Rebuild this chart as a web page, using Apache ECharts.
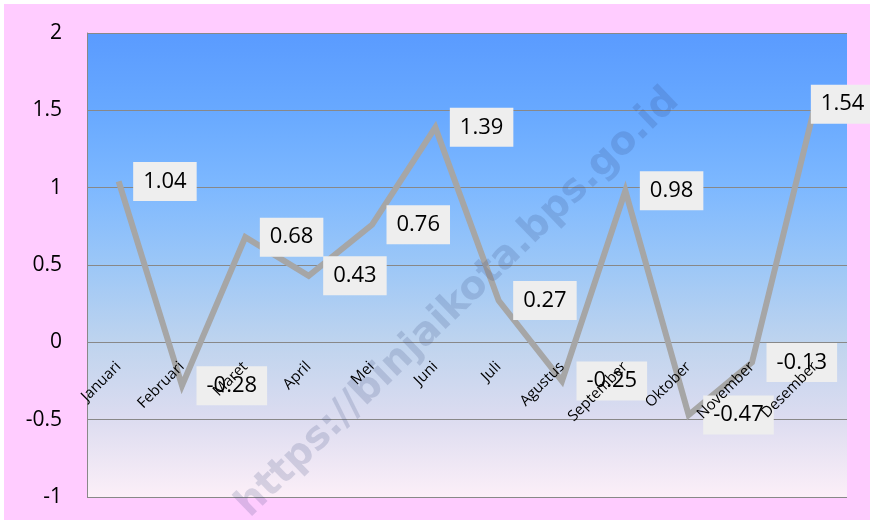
<!DOCTYPE html>
<html>
<head>
<meta charset="utf-8">
<script src="https://cdn.jsdelivr.net/npm/echarts@6/dist/echarts.min.js"></script>
<style>
  html, body { margin: 0; padding: 0; background: #ffffff; }
  #frame { position: absolute; left: 4px; top: 4px; width: 866px; height: 516px; background: #FFCCFF; }
  #chart { position: absolute; left: 0; top: 0; width: 870px; height: 524px; }
</style>
</head>
<body>
<div id="frame"></div>
<div id="chart"></div>
<script>
// Monthly values
const months = ['Januari', 'Februari', 'Maret', 'April', 'Mei', 'Juni', 'Juli', 'Agustus', 'September', 'Oktober', 'November', 'Desember'];
const values = [1.04, -0.28, 0.68, 0.43, 0.76, 1.39, 0.27, -0.25, 0.98, -0.47, -0.13, 1.54];
const yTicks = { min: -1, max: 2, step: 0.5 };
const watermark = 'https://binjaikota.bps.go.id';

const grid = { left: 87, top: 33, right: 23, bottom: 27 };
const plotHeight = 524 - grid.top - grid.bottom;
// month names sit on the zero line rather than the bottom edge
const zeroOffset = -plotHeight * (0 - yTicks.min) / (yTicks.max - yTicks.min);

const chart = echarts.init(document.getElementById('chart'), null, { renderer: 'canvas' });

chart.setOption({
  backgroundColor: 'transparent',
  animation: false,
  grid: Object.assign({}, grid, {
    containLabel: false,
    outerBoundsMode: 'none',
    show: true,
    borderWidth: 0,
    backgroundColor: new echarts.graphic.LinearGradient(0, 0, 0, 1, [
      { offset: 0.00, color: '#5A9BFF' },
      { offset: 0.17, color: '#68A9FF' },
      { offset: 0.33, color: '#7DB8FF' },
      { offset: 0.50, color: '#9CC7F7' },
      { offset: 0.67, color: '#BFD4EE' },
      { offset: 0.83, color: '#DCDCF0' },
      { offset: 1.00, color: '#FCEFF8' }
    ])
  }),
  xAxis: {
    type: 'category',
    data: months,
    boundaryGap: true,
    position: 'bottom',
    offset: zeroOffset,
    z: 10,
    axisLine: { show: false, onZero: false },
    axisTick: { show: false },
    splitLine: { show: false },
    axisLabel: {
      rotate: 45,
      margin: 22,
      interval: 0,
      fontFamily: 'Open Sans',
      fontSize: 15,
      color: '#000000'
    }
  },
  yAxis: {
    type: 'value',
    min: yTicks.min,
    max: yTicks.max,
    interval: yTicks.step,
    axisLine: { show: true, lineStyle: { color: '#888888', width: 1 } },
    axisTick: { show: false },
    axisLabel: {
      margin: 25,
      fontFamily: 'Open Sans',
      fontSize: 21,
      color: '#000000'
    },
    splitLine: { show: true, lineStyle: { color: '#888888', width: 1 } }
  },
  series: [{
    type: 'line',
    data: values,
    showSymbol: true,
    symbol: 'circle',
    symbolSize: 1,
    itemStyle: { color: 'rgba(0,0,0,0)' },
    z: 2,
    lineStyle: { color: '#A6A6A6', width: 6, join: 'miter' },
    label: {
      show: true,
      position: 'right',
      distance: 14,
      fontFamily: 'Open Sans',
      fontSize: 22,
      color: '#000000',
      backgroundColor: '#EEEEEE',
      padding: [9, 10, 8, 10]
    },
    // keep the last label from running off the right edge
    labelLayout: function (params) {
      if (params.dataIndex === values.length - 1) {
        return { dx: -19 };
      }
      return {};
    }
  }],
  graphic: [{
    type: 'text',
    z: 100,
    x: 458,
    y: 303,
    rotation: Math.PI * 44 / 180,
    style: {
      text: watermark,
      fontFamily: 'DejaVu Sans',
      fontWeight: 'bold',
      fontSize: 39,
      fill: 'rgba(40, 60, 110, 0.17)',
      align: 'center',
      verticalAlign: 'middle'
    }
  }]
});
</script>
</body>
</html>
